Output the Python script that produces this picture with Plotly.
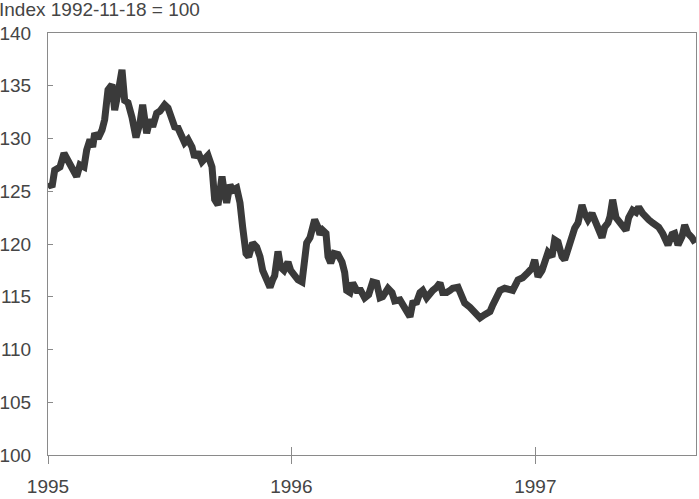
import pandas as pd
import plotly.graph_objects as go

# Days since 1995-01-01 and index values
days = [1, 6, 10, 18, 24, 30, 37, 43, 48, 54, 58, 63, 67, 70, 75, 81, 85, 90, 96, 100,
        105, 111, 115, 120, 126, 132, 138, 142, 148, 153, 157, 163, 168, 175, 180, 186, 190, 195, 201, 205,
        210, 216, 220, 225, 231, 235, 240, 246, 250, 255, 261, 264, 268, 273, 277, 283, 288, 292, 297, 301,
        307, 313, 318, 322, 328, 333, 337, 340, 345, 349, 354, 360, 364, 369, 375, 381, 384, 388, 393, 397,
        400, 405, 408, 412, 417, 420, 424, 429, 435, 441, 445, 448, 453, 457, 463, 469, 475, 481, 487, 493,
        498, 502, 510, 516, 520, 528, 532, 538, 543, 547, 553, 558, 562, 568, 573, 577, 583, 588, 592, 598,
        603, 607, 615, 621, 625, 633, 640, 648, 655, 663, 667, 673, 678, 685, 693, 697, 705, 712, 720, 726,
        730, 735, 741, 745, 750, 756, 760, 765, 771, 775, 780, 786, 790, 795, 801, 805, 810, 816, 822, 826,
        831, 835, 840, 843, 847, 852, 856, 862, 867, 871, 877, 882, 886, 892, 897, 901, 907, 912, 916, 922,
        927, 930, 936, 940, 945, 951, 955, 960, 966, 971]
values = [125.8, 125.4, 127.0, 127.3, 128.6, 128.0, 127.3, 126.4, 127.5, 127.3, 128.9, 129.9, 129.2, 130.5, 130.0, 130.8, 131.8, 134.6, 135.1, 132.7,
          134.3, 136.5, 133.6, 133.4, 132.0, 130.1, 131.5, 133.2, 130.5, 131.8, 131.1, 132.4, 132.6, 133.2, 132.9, 131.6, 131.1, 131.0, 130.0, 129.6,
          129.9, 129.2, 128.2, 128.7, 127.8, 128.2, 128.4, 127.3, 124.2, 123.7, 126.4, 125.1, 123.9, 125.6, 125.1, 125.3, 123.9, 121.6, 119.1, 118.8,
          120.1, 119.7, 118.8, 117.5, 116.6, 115.9, 116.6, 117.0, 119.3, 117.8, 117.5, 118.3, 117.5, 117.1, 116.6, 116.4, 118.5, 120.1, 120.6, 121.3,
          122.3, 121.6, 120.9, 121.3, 121.0, 118.8, 118.2, 119.1, 119.0, 118.3, 117.3, 115.6, 115.4, 116.3, 115.6, 115.6, 114.9, 115.2, 116.4, 116.3,
          114.9, 115.0, 115.8, 115.4, 114.6, 114.7, 114.2, 113.7, 113.1, 114.4, 114.5, 115.4, 115.6, 114.9, 115.4, 115.6, 115.9, 116.3, 115.4, 115.4,
          115.6, 115.8, 115.9, 115.0, 114.4, 114.0, 113.6, 113.0, 113.3, 113.6, 114.2, 115.0, 115.6, 115.8, 115.6, 115.6, 116.6, 116.8, 117.3, 117.7,
          118.5, 116.9, 117.5, 118.3, 119.2, 118.8, 120.4, 120.2, 118.8, 118.5, 119.6, 120.7, 121.5, 122.0, 123.7, 122.9, 122.3, 122.9, 122.0, 121.0,
          120.6, 121.6, 122.0, 122.6, 124.2, 122.5, 122.1, 121.5, 121.3, 122.5, 123.2, 123.0, 123.5, 122.9, 122.5, 122.3, 122.0, 121.8, 121.6, 121.0,
          120.4, 119.9, 120.9, 121.0, 119.9, 120.7, 121.8, 121.0, 120.6, 120.1]

y_ticks = [100, 105, 110, 115, 120, 125, 130, 135, 140]
x_tick_dates = ["1995-01-01", "1996-01-01", "1997-01-01"]
x_tick_labels = ["1995", "1996", "1997"]
title_text = "Index 1992-11-18 = 100"

dates = pd.Timestamp("1995-01-01") + pd.to_timedelta(days, unit="D")
x_range = ["1995-01-01", "1997-08-30"]

FONT = "Liberation Sans, Arial, sans-serif"
TXT = "#454545"
AX = "#8a8a8a"

fig = go.Figure()
fig.add_trace(go.Scatter(x=dates, y=values, mode="lines",
                         line=dict(color="#3a3a3a", width=7, shape="linear"),
                         hoverinfo="skip", showlegend=False))
# helper trace so the overlay axis (outer tick marks + labels) renders
fig.add_trace(go.Scatter(x=dates, y=values, mode="lines", xaxis="x2",
                         line=dict(color="rgba(0,0,0,0)", width=0),
                         hoverinfo="skip", showlegend=False))

fig.update_layout(
    width=699, height=499,
    margin=dict(l=48, r=3, t=33, b=44, autoexpand=False),
    paper_bgcolor="white", plot_bgcolor="white",
    font=dict(family=FONT, size=19, color=TXT),
    xaxis=dict(range=x_range, type="date", showgrid=False, zeroline=False,
               showline=True, linecolor=AX, linewidth=1, mirror=True,
               tickvals=x_tick_dates, ticktext=x_tick_labels, showticklabels=False,
               ticks="inside", ticklen=8, tickcolor=AX, tickwidth=1, automargin=False),
    xaxis2=dict(range=x_range, type="date", overlaying="x", anchor="y", side="bottom",
                showgrid=False, zeroline=False, showline=False,
                tickvals=x_tick_dates, ticktext=x_tick_labels,
                ticks="outside", ticklen=8, tickcolor=AX, tickwidth=1,
                ticklabelstandoff=6, automargin=False,
                tickfont=dict(family=FONT, size=19, color=TXT)),
    yaxis=dict(range=[100, 140], showgrid=False, zeroline=False,
               showline=True, linecolor=AX, linewidth=1, mirror=True,
               tickvals=y_ticks, ticktext=[str(v) for v in y_ticks],
               ticks="inside", ticklen=5, tickcolor=AX, tickwidth=1,
               ticklabelstandoff=12, automargin=False,
               tickfont=dict(family=FONT, size=19, color=TXT)),
    annotations=[dict(text=title_text, xref="paper", yref="paper", x=0, y=1,
                      xanchor="left", yanchor="top", xshift=-51, yshift=36,
                      showarrow=False, font=dict(family=FONT, size=19, color=TXT))],
)

fig.write_html("out.html",
               config={"displayModeBar": False, "staticPlot": True},
               post_script="document.body.style.margin='0';document.body.style.padding='0';"
                           "document.documentElement.style.overflow='hidden';")
